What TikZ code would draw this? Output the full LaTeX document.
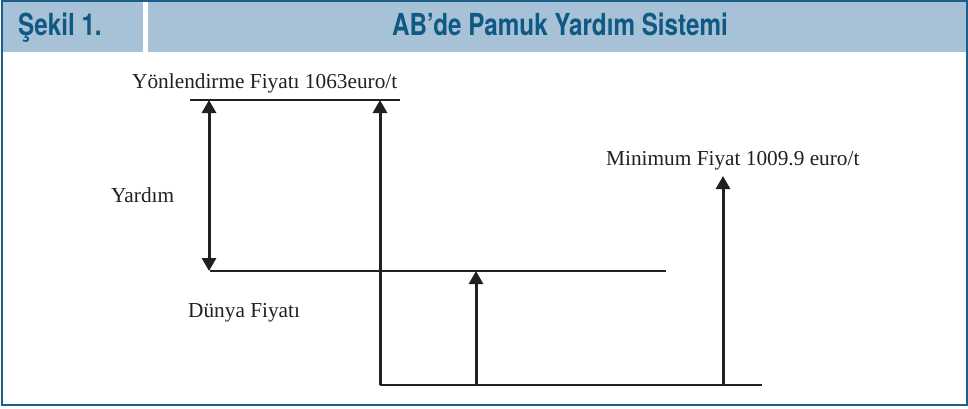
\documentclass[tikz,border=0pt]{standalone}
\usepackage{fontspec}
\setmainfont{Liberation Serif}
\newfontfamily\hdrfont[FakeStretch=0.8]{TeX Gyre Heros}
\usetikzlibrary{arrows.meta}
\definecolor{frameblue}{HTML}{1B5E8A}
\definecolor{bandblue}{HTML}{A7C1D7}
\definecolor{titleblue}{HTML}{0F5A85}
\definecolor{ink}{HTML}{231F20}
\tikzset{
  axisline/.style={draw=ink, line width=2pt},
  arrowline/.style={draw=ink, line width=3pt, -{Triangle[length=13pt,width=14pt]}},
  dblarrow/.style={draw=ink, line width=3pt, {Triangle[length=13pt,width=14pt]}-{Triangle[length=13pt,width=14pt]}},
  lbl/.style={font=\fontsize{21.3}{24}\selectfont, inner sep=0pt, anchor=base west, text=ink},
  hdr/.style={font=\hdrfont\bfseries\fontsize{30.3}{34}\selectfont, text=titleblue, inner sep=0pt, anchor=base west}
}
\begin{document}
\begin{tikzpicture}[x=1pt,y=-1pt]
\useasboundingbox (0,0) rectangle (968,408);
\fill[white] (0,0) rectangle (968,408);
% header band
\fill[bandblue] (2,2) rectangle (143,52);
\fill[bandblue] (148,2) rectangle (966,52);
\draw[frameblue, line width=2pt] (1.5,1) rectangle (966.5,405);
\node[hdr] (fig) at (18,35) {Şekil 1.};
\node[hdr] (title) at (392,35) {AB’de Pamuk Yardım Sistemi};
% labels
\node[lbl] (yon) at (132,88) {Yönlendirme Fiyatı 1063euro/t};
\node[lbl] (yar) at (111,202) {Yardım};
\node[lbl] (dun) at (188,317) {Dünya Fiyatı};
\node[lbl] (min) at (606,165) {Minimum Fiyat 1009.9 euro/t};
% coordinates
\coordinate (tl) at (190,100);
\coordinate (tr) at (400,100);
\coordinate (ml) at (210,271);
\coordinate (mr) at (666,271);
\coordinate (bl) at (380,385);
\coordinate (br) at (762,385);
\coordinate (a1t) at (209,100);
\coordinate (a1b) at (209,271);
\coordinate (a2t) at (380,100);
\coordinate (a3b) at (476,385);
\coordinate (a3t) at (476,271);
\coordinate (a4b) at (723,385);
\coordinate (a4t) at (723,176);
% lines
\draw[axisline] (tl) -- (tr);
\draw[axisline] (ml) -- (mr);
\draw[axisline] (bl) -- (br);
\draw[dblarrow] (a1b) -- (a1t);
\draw[arrowline] (bl) -- (a2t);
\draw[arrowline] (a3b) -- (a3t);
\draw[arrowline] (a4b) -- (a4t);
\end{tikzpicture}
\end{document}
